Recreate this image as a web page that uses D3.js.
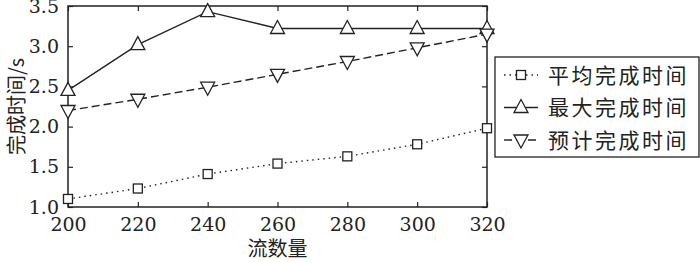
<!DOCTYPE html>
<html>
<head>
<meta charset="utf-8">
<script src="https://cdn.jsdelivr.net/npm/d3@7"></script>
<style>
  body { margin: 0; background: #fff; }
  text { fill: #222; }
</style>
</head>
<body>
<div id="Canvas"></div>
<script>
// data
let flows = [200, 220, 240, 260, 280, 300, 320]
let avgTime = [1.10, 1.23, 1.41, 1.54, 1.63, 1.78, 1.98]
let maxTime = [2.45, 3.02, 3.43, 3.22, 3.22, 3.22, 3.22]
let estTime = [2.20, 2.34, 2.49, 2.65, 2.81, 2.98, 3.15]
let xTicks = [200, 220, 240, 260, 280, 300, 320]
let yTicks = [1.0, 1.5, 2.0, 2.5, 3.0, 3.5]
let seriesNames = ["平均完成时间", "最大完成时间", "预计完成时间"]

let svg = d3.select("#Canvas")
    .append("svg")
    .attr("width", 700)
    .attr("height", 262)

let pLeft = 68, pRight = 487, pTop = 6, pBottom = 207
let xScale = d3.scaleLinear().domain([200, 320]).range([pLeft, pRight])
let yScale = d3.scaleLinear().domain([1.0, 3.5]).range([pBottom, pTop])

let ink = "#222"
let serif = "'DejaVu Serif','Liberation Serif',serif"
let cjk = "'Noto Sans CJK SC','Noto Sans CJK JP',sans-serif"

// 坐標軸 (ticks point inward on all four sides)
svg.append("g")
    .attr("transform", `translate(0,${pBottom})`)
    .call(d3.axisBottom(xScale).tickValues(xTicks).tickSizeInner(-5).tickSizeOuter(0).tickPadding(11))
svg.append("g")
    .attr("transform", `translate(0,${pTop})`)
    .call(d3.axisTop(xScale).tickValues(xTicks).tickSizeInner(-5).tickSizeOuter(0).tickFormat(""))
svg.append("g")
    .attr("transform", `translate(${pLeft},0)`)
    .call(d3.axisLeft(yScale).tickValues(yTicks).tickSizeInner(-5).tickSizeOuter(0).tickPadding(9).tickFormat(d3.format(".1f")))
svg.append("g")
    .attr("transform", `translate(${pRight},0)`)
    .call(d3.axisRight(yScale).tickValues(yTicks).tickSizeInner(-5).tickSizeOuter(0).tickFormat(""))

svg.selectAll(".domain").remove()
svg.selectAll(".tick line").attr("stroke", ink).attr("stroke-width", 1.2)
svg.selectAll(".tick text")
    .attr("font-family", serif)
    .attr("font-size", 19)
    .attr("fill", ink)

svg.append("rect")
    .attr("x", pLeft).attr("y", pTop)
    .attr("width", pRight - pLeft).attr("height", pBottom - pTop)
    .attr("fill", "none").attr("stroke", ink).attr("stroke-width", 1.5)

// 軸標題
svg.append("text")
    .attr("transform", `translate(24,${(pTop + pBottom) / 2}) rotate(-90)`)
    .attr("text-anchor", "middle")
    .attr("font-family", cjk)
    .attr("font-size", 20)
    .text("完成时间/s")
svg.append("text")
    .attr("x", (pLeft + pRight) / 2).attr("y", 256)
    .attr("text-anchor", "middle")
    .attr("font-family", cjk)
    .attr("font-size", 20)
    .text("流数量")

// markers
function marker(g, type, x, y) {
    if (type == "square") {
        g.append("rect")
            .attr("x", x - 4.5).attr("y", y - 4.5)
            .attr("width", 9).attr("height", 9)
            .attr("fill", "#fff").attr("stroke", ink).attr("stroke-width", 1.3)
    } else {
        let s = type == "up" ? -1 : 1
        let pts = [[x, y + s * 8], [x - 7, y - s * 5], [x + 7, y - s * 5]]
        g.append("polygon")
            .attr("points", pts.map(p => p.join(",")).join(" "))
            .attr("fill", "#fff").attr("stroke", ink).attr("stroke-width", 1.3)
    }
}

let series = [
    { name: seriesNames[0], values: avgTime, dash: "1.5,4", type: "square" },
    { name: seriesNames[1], values: maxTime, dash: null, type: "up" },
    { name: seriesNames[2], values: estTime, dash: "8,4", type: "down" }
]

let line = d3.line()
    .x((d, i) => xScale(flows[i]))
    .y(d => yScale(d))

series.forEach(s => {
    svg.append("path")
        .attr("d", line(s.values))
        .attr("fill", "none")
        .attr("stroke", ink)
        .attr("stroke-width", 1.4)
        .attr("stroke-dasharray", s.dash)
    let g = svg.append("g")
    s.values.forEach((v, i) => marker(g, s.type, xScale(flows[i]), yScale(v)))
})

// legend
let legend = svg.append("g")
legend.append("rect")
    .attr("x", 495).attr("y", 57)
    .attr("width", 204).attr("height", 100)
    .attr("fill", "#fff").attr("stroke", ink).attr("stroke-width", 1.3)
series.forEach((s, i) => {
    let y = 75 + i * 32.5
    legend.append("line")
        .attr("x1", 504).attr("x2", 538)
        .attr("y1", y).attr("y2", y)
        .attr("stroke", ink).attr("stroke-width", 1.4)
        .attr("stroke-dasharray", s.dash)
    marker(legend, s.type, 521, y)
    legend.append("text")
        .attr("x", 548).attr("y", y)
        .attr("dy", "0.36em")
        .attr("font-family", cjk)
        .attr("font-size", 21)
        .attr("letter-spacing", 2.5)
        .text(s.name)
})
</script>
</body>
</html>
